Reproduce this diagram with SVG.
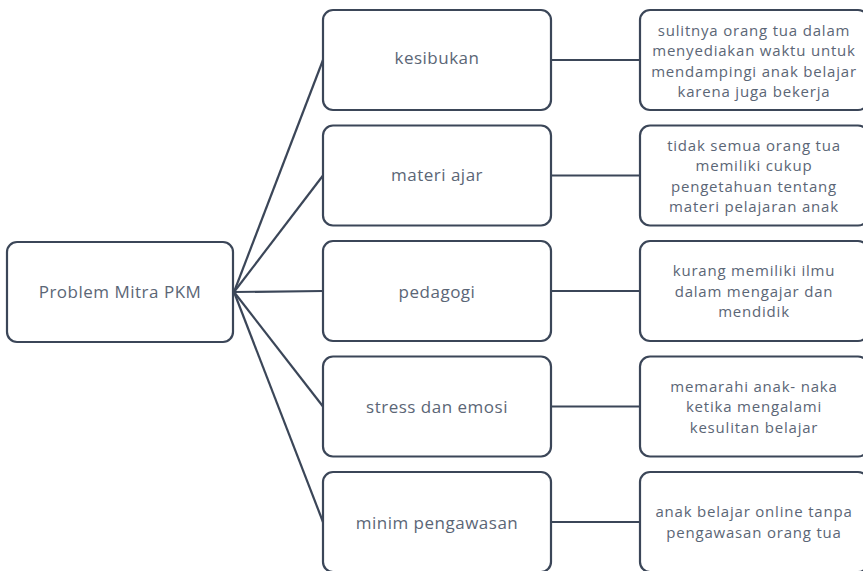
<svg xmlns="http://www.w3.org/2000/svg" width="863" height="571" viewBox="0 0 863 571">
<style>
.box{fill:#fff;stroke:#3b4658;stroke-width:2.2}
.con line{stroke:#3b4658;stroke-width:2.2}
text{font-family:"Open Sans","Noto Sans",sans-serif;fill:#5b6676;text-anchor:middle}
.m{font-size:17px;letter-spacing:0.5px}
.r{font-size:15px;letter-spacing:0.8px}
</style>
<rect width="863" height="571" fill="#fff"/>
<g class="con">
<line x1="234" y1="292" x2="323" y2="60"/>
<line x1="234" y1="292" x2="323" y2="175.5"/>
<line x1="234" y1="292" x2="323" y2="291"/>
<line x1="234" y1="292" x2="323" y2="406.5"/>
<line x1="234" y1="292" x2="323" y2="522"/>
<line x1="551" y1="60" x2="640" y2="60"/>
<line x1="551" y1="175.5" x2="640" y2="175.5"/>
<line x1="551" y1="291" x2="640" y2="291"/>
<line x1="551" y1="406.5" x2="640" y2="406.5"/>
<line x1="551" y1="522" x2="640" y2="522"/>
</g>
<g id="root"><rect class="box" x="7" y="242" width="226" height="100" rx="10"/><text class="m" x="120" y="298">Problem Mitra PKM</text></g>
<g id="kesibukan"><rect class="box" x="323" y="10" width="228" height="100" rx="10"/><text class="m" x="437" y="64">kesibukan</text></g>
<g id="materi"><rect class="box" x="323" y="125.5" width="228" height="100" rx="10"/><text class="m" x="437" y="181">materi ajar</text></g>
<g id="pedagogi"><rect class="box" x="323" y="241" width="228" height="100" rx="10"/><text class="m" x="437" y="298">pedagogi</text></g>
<g id="stress"><rect class="box" x="323" y="356.5" width="228" height="100" rx="10"/><text class="m" x="437" y="413">stress dan emosi</text></g>
<g id="minim"><rect class="box" x="323" y="472" width="228" height="100" rx="10"/><text class="m" x="437" y="529">minim pengawasan</text></g>
<g id="r1"><rect class="box" x="640" y="10" width="228" height="100" rx="10"/><text class="r" x="754"><tspan x="754" y="35.75">sulitnya orang tua dalam</tspan><tspan x="754" y="56.25">menyediakan waktu untuk</tspan><tspan x="754" y="76.75">mendampingi anak belajar</tspan><tspan x="754" y="97.25">karena juga bekerja</tspan></text></g>
<g id="r2"><rect class="box" x="640" y="125.5" width="228" height="100" rx="10"/><text class="r" x="754"><tspan x="754" y="150.75">tidak semua orang tua</tspan><tspan x="754" y="171.25">memiliki cukup</tspan><tspan x="754" y="191.75">pengetahuan tentang</tspan><tspan x="754" y="212.25">materi pelajaran anak</tspan></text></g>
<g id="r3"><rect class="box" x="640" y="241" width="228" height="100" rx="10"/><text class="r" x="754"><tspan x="754" y="276">kurang memiliki ilmu</tspan><tspan x="754" y="296.5">dalam mengajar dan</tspan><tspan x="754" y="317">mendidik</tspan></text></g>
<g id="r4"><rect class="box" x="640" y="356.5" width="228" height="100" rx="10"/><text class="r" x="754"><tspan x="754" y="391.5">memarahi anak- naka</tspan><tspan x="754" y="412">ketika mengalami</tspan><tspan x="754" y="432.5">kesulitan belajar</tspan></text></g>
<g id="r5"><rect class="box" x="640" y="472" width="228" height="100" rx="10"/><text class="r" x="754"><tspan x="754" y="517.25">anak belajar online tanpa</tspan><tspan x="754" y="537.75">pengawasan orang tua</tspan></text></g>
</svg>
